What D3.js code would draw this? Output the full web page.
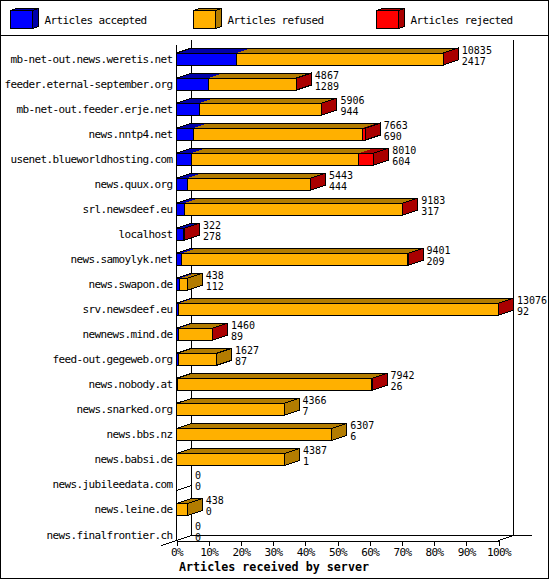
<!DOCTYPE html>
<html>
<head>
<meta charset="utf-8">
<script src="https://d3js.org/d3.v7.min.js"></script>
<style>
html, body { margin: 0; padding: 0; background: #fff; }
svg { display: block; }
text { font-family: "DejaVu Sans Mono", monospace; font-size: 11px; letter-spacing: -0.62px; fill: #000; }
text.value { font-size: 10px; letter-spacing: 0; }
path, line, rect { shape-rendering: crispEdges; }
</style>
</head>
<body>
<div id="chart"></div>
<script>
var servers = ["mb-net-out.news.weretis.net", "feeder.eternal-september.org", "mb-net-out.feeder.erje.net",
    "news.nntp4.net", "usenet.blueworldhosting.com", "news.quux.org", "srl.newsdeef.eu", "localhost",
    "news.samoylyk.net", "news.swapon.de", "srv.newsdeef.eu", "newnews.mind.de", "feed-out.gegeweb.org",
    "news.nobody.at", "news.snarked.org", "news.bbs.nz", "news.babsi.de", "news.jubileedata.com",
    "news.leine.de", "news.finalfrontier.ch"];
var received = [10835, 4867, 5906, 7663, 8010, 5443, 9183, 322, 9401, 438, 13076, 1460, 1627, 7942, 4366, 6307, 4387, 0, 438, 0];
var accepted = [2417, 1289, 944, 690, 604, 444, 317, 278, 209, 112, 92, 89, 87, 26, 7, 6, 1, 0, 0, 0];
var refused = [8406, 3568, 4952, 6853, 6796, 4991, 8858, 0, 9184, 326, 12976, 1365, 1540, 7908, 4359, 6301, 4386, 0, 438, 0];
var rejected = [12, 10, 10, 120, 610, 8, 8, 44, 8, 0, 8, 6, 0, 8, 0, 0, 0, 0, 0, 0];
var legendLabels = ["Articles accepted", "Articles refused", "Articles rejected"];
var percentTicks = [0, 10, 20, 30, 40, 50, 60, 70, 80, 90, 100];

var width = 550, height = 580;
var depthX = 15, depthY = 5, barHeight = 12;
var left = 176.5, right = 498.5, top_ = 40, bottom = 540.5;
var fronts = ["#0000ff", "#ffb000", "#ff0000"];
var darks = ["#0000aa", "#b37c00", "#aa0000"];

var svg = d3.select("#chart").append("svg")
    .attr("width", width)
    .attr("height", height);

var x = d3.scaleLinear().domain([0, d3.max(received)]).range([left, right]);
var pct = d3.scaleLinear().domain([0, 100]).range([left, right]);
var y = d3.scaleBand().domain(servers).range([top_, bottom]);

// frame and legend separator
svg.append("rect")
    .attr("x", 0.5).attr("y", 0.5)
    .attr("width", 548).attr("height", 578)
    .attr("fill", "none").attr("stroke", "#000");
svg.append("line")
    .attr("x1", 0).attr("x2", 549).attr("y1", 35.5).attr("y2", 35.5)
    .attr("stroke", "#000");

// legend
var legendX = [10.5, 193.5, 376.5];
legendLabels.forEach(function (label, i) {
    var g = svg.append("g").attr("transform", "translate(" + legendX[i] + ",10.5)");
    g.append("path").attr("d", "M0,0L6,-2L28,-2L22,0Z")
        .attr("fill", darks[i]).attr("stroke", "#000");
    g.append("path").attr("d", "M22,0L28,-2L28,16L22,18Z")
        .attr("fill", darks[i]).attr("stroke", "#000");
    g.append("rect")
        .attr("width", 22).attr("height", 18)
        .attr("fill", fronts[i]).attr("stroke", "#000");
    g.append("text").attr("x", 34).attr("y", 13).text(label);
});

// walls of the 3d box
var walls = svg.append("g").attr("fill", "none").attr("stroke", "#000");
walls.append("line")
    .attr("x1", left).attr("x2", left).attr("y1", top_ + depthY).attr("y2", bottom);
walls.append("line")
    .attr("x1", left + depthX).attr("x2", left + depthX).attr("y1", top_).attr("y2", bottom - depthY);
walls.append("line")
    .attr("x1", right + depthX).attr("x2", right + depthX).attr("y1", top_).attr("y2", bottom - depthY);
walls.append("line")
    .attr("x1", left + depthX).attr("x2", 532).attr("y1", bottom - depthY).attr("y2", bottom - depthY);
walls.append("line")
    .attr("x1", left - depthX).attr("x2", left + depthX).attr("y1", bottom + depthY).attr("y2", bottom - depthY);
walls.append("line")
    .attr("x1", right).attr("x2", right + depthX).attr("y1", bottom).attr("y2", bottom - depthY);
walls.selectAll("line.slant")
    .data(servers.slice(0, -1))
    .enter().append("line").attr("class", "slant")
    .attr("x1", left).attr("x2", left + depthX)
    .attr("y1", function (d) { return y(d) + y.bandwidth(); })
    .attr("y2", function (d) { return y(d) + y.bandwidth() - depthY; });

// percent axis
var axis = d3.axisBottom(pct)
    .tickValues(percentTicks)
    .tickSize(5)
    .tickPadding(3)
    .tickFormat(function (d) { return d + "%"; });
var axisG = svg.append("g").attr("transform", "translate(0," + bottom + ")").call(axis);
axisG.selectAll("path, line").attr("stroke", "#000");
axisG.select(".domain").attr("d", "M" + left + ",0.5H" + right);
axisG.selectAll("text")
    .style("font-family", "'DejaVu Sans Mono', monospace").style("font-size", "11px").attr("fill", "#000");

svg.append("text")
    .attr("x", 274).attr("y", 571)
    .attr("text-anchor", "middle")
    .style("font-weight", "bold").style("font-size", "11.7px").style("letter-spacing", "0")
    .text("Articles received by server");

// one row per server
servers.forEach(function (name, i) {
    var bandBottom = y(name) + y.bandwidth();
    var yFront = bandBottom - barHeight;
    var parts = [accepted[i], refused[i], rejected[i]];
    var row = svg.append("g");

    row.append("text")
        .attr("x", 172.5).attr("y", bandBottom - 2)
        .attr("text-anchor", "end")
        .text(name);

    var stack = d3.stack().keys([0, 1, 2])([parts])
        .map(function (s, k) { return {k: k, x0: x(s[0][0]), x1: x(s[0][1]), v: parts[k]}; })
        .filter(function (s) { return s.v > 0; });

    if (stack.length) {
        var end = stack[stack.length - 1];
        // top faces first, then their outline
        stack.forEach(function (s) {
            row.append("path")
                .attr("d", "M" + s.x0 + "," + yFront + "L" + (s.x0 + depthX) + "," + (yFront - depthY)
                    + "L" + (s.x1 + depthX) + "," + (yFront - depthY) + "L" + s.x1 + "," + yFront + "Z")
                .attr("fill", darks[s.k]);
        });
        row.append("path")
            .attr("d", "M" + left + "," + yFront + "L" + (left + depthX) + "," + (yFront - depthY)
                + "L" + (end.x1 + depthX) + "," + (yFront - depthY))
            .attr("fill", "none").attr("stroke", "#000");
        row.append("path")
            .attr("d", "M" + end.x1 + "," + yFront + "L" + (end.x1 + depthX) + "," + (yFront - depthY)
                + "L" + (end.x1 + depthX) + "," + (bandBottom - depthY) + "L" + end.x1 + "," + bandBottom + "Z")
            .attr("fill", darks[end.k]).attr("stroke", "#000");
        row.selectAll("rect")
            .data(stack)
            .enter().append("rect")
            .attr("x", function (s) { return s.x0; })
            .attr("y", yFront + 0.5)
            .attr("width", function (s) { return s.x1 - s.x0; })
            .attr("height", barHeight)
            .attr("fill", function (s) { return fronts[s.k]; })
            .attr("stroke", "#000");
    }

    row.append("text").attr("class", "value")
        .attr("x", x(received[i]) + depthX + 3.5).attr("y", bandBottom - 11)
        .text(received[i]);
    row.append("text").attr("class", "value")
        .attr("x", x(received[i]) + depthX + 3.5).attr("y", bandBottom)
        .text(accepted[i]);
});
</script>
</body>
</html>
